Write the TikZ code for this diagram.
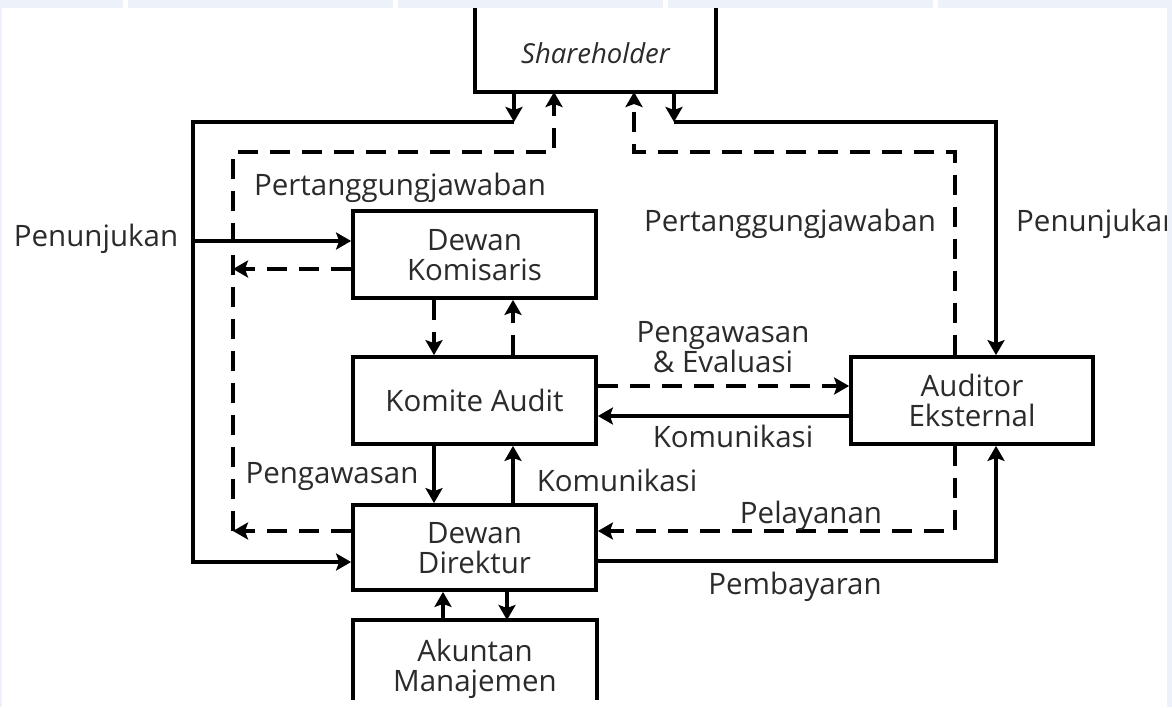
\documentclass[tikz,border=0pt]{standalone}
\usepackage{fontspec}
\setmainfont{Open Sans}
\usetikzlibrary{arrows.meta,calc}
\definecolor{txt}{HTML}{2B2B2B}
\definecolor{band}{HTML}{EDF1F9}
\begin{document}
\begin{tikzpicture}[x=1pt,y=-1pt,
  ln/.style={line width=3.5pt},
  arr/.style={ln,-{Stealth[length=15pt,width=17pt,inset=3pt]}},
  darr/.style={arr,dash pattern=on 20pt off 12pt},
  boxln/.style={line width=3.8pt},
  box/.style={draw,line width=3.8pt,minimum width=243pt,minimum height=87pt,inner sep=0pt,outer sep=1.9pt,
    align=center,font=\fontsize{29.5}{30}\selectfont,text=txt,text depth=0pt},
  lbl/.style={font=\fontsize{29.5}{30}\selectfont,text=txt,inner sep=0pt,align=center,text depth=0pt}]
\useasboundingbox (0,0) rectangle (1172,707);
\clip (0,0) rectangle (1172,707);
\fill[white] (0,0) rectangle (1172,707);

% boxes
\node[box] (dk) at (474.5,254.5) {Dewan\\Komisaris};
\node[box] (ka) at (474.5,400.5) {Komite Audit};
\node[box,minimum height=85pt] (dd) at (474.5,547.5) {Dewan\\Direktur};
\node[box,minimum width=242pt] (ae) at (972,400.5) {Auditor\\Eksternal};
\node[box,draw=none,outer sep=0pt,minimum width=241pt,minimum height=78pt,font=\fontsize{27.5}{28}\selectfont\itshape] (sh) at (595.5,53) {Shareholder};
\draw[boxln] ($(sh.north west)+(0,-40)$) -- (sh.south west) -- (sh.south east) -- ($(sh.north east)+(0,-40)$);
\node[box,draw=none,outer sep=0pt,minimum width=244pt,minimum height=90pt] (ak) at (475,665) {Akuntan\\Manajemen};
\draw[boxln] ($(ak.north west)+(0,80)$) -- (ak.north west) -- (ak.north east) -- ($(ak.north east)+(0,80)$);

% helper coordinates
\coordinate (jl) at (514,122);
\coordinate (jr) at (674,122);
\coordinate (L1) at (193,122);
\coordinate (L2) at (193,562);
\coordinate (L3) at (193,241);
\coordinate (R1) at (996,122);
\coordinate (xL) at (233,0);
\coordinate (xQ) at (554,0);
\coordinate (xP) at (634,0);
\coordinate (xR) at (955,0);
\coordinate (xS) at (996,0);
\coordinate (xA) at (434,0);
\coordinate (xB) at (513,0);
\coordinate (xC) at (443,0);
\coordinate (xD) at (507,0);
\coordinate (yT) at (0,152);
\coordinate (yK) at (0,269);
\coordinate (yD) at (0,531);
\coordinate (yP) at (0,561);
\coordinate (yE) at (0,386);
\coordinate (yC) at (0,416);

% solid connectors
\draw[arr] (sh.south -| jl) -- (jl);
\draw[arr] (jl) -- (L1) -- (L2) -- (dd.west |- L2);
\draw[arr] (L3) -- (dk.west |- L3);
\draw[arr] (sh.south -| jr) -- (jr);
\draw[arr] (jr) -- (R1) -- (ae.north -| R1);
\draw[arr] (ka.south -| xA) -- (dd.north -| xA);
\draw[arr] (dd.north -| xB) -- (ka.south -| xB);
\draw[arr] (ak.north -| xC) -- (dd.south -| xC);
\draw[arr] (dd.south -| xD) -- (ak.north -| xD);
\draw[arr] (ae.west |- yC) -- (ka.east |- yC);
\draw[arr] (dd.east |- yP) -- (xS |- yP) -- (ae.south -| xS);

% dashed connectors
\draw[darr] (dk.west |- yK) -- (xL |- yK);
\draw[darr] (dd.west |- yD) -- (xL |- yD);
\draw[darr] (xL |- yD) -- (xL |- yT) -- (xQ |- yT) -- (sh.south -| xQ);
\draw[darr] (ae.north -| xR) -- (xR |- yT) -- (xP |- yT) -- (sh.south -| xP);
\draw[darr] (dk.south -| xA) -- (ka.north -| xA);
\draw[darr] (ka.north -| xB) -- (dk.south -| xB);
\draw[darr] (ka.east |- yE) -- (ae.west |- yE);
\draw[darr] (ae.south -| xR) -- (xR |- yD) -- (dd.east |- yD);

% labels
\node[lbl] (t1) at (400,184) {Pertanggungjawaban};
\node[lbl] (t2) at (790,220) {Pertanggungjawaban};
\node[lbl] (t3) at (96,235) {Penunjukan};
\node[lbl,anchor=west] (t4) at (1016,220) {Penunjukan};
\node[lbl] (t5) at (723,347) {Pengawasan\\\& Evaluasi};
\node[lbl] (t6) at (733,436) {Komunikasi};
\node[lbl] (t7) at (617,480) {Komunikasi};
\node[lbl] (t8) at (332,473) {Pengawasan};
\node[lbl] (t9) at (811,512) {Pelayanan};
\node[lbl] (t10) at (795,583) {Pembayaran};

% top band
\fill[band] (0,0) rectangle (123,8);
\fill[band] (128,0) rectangle (393,8);
\fill[band] (398,0) rectangle (663,8);
\fill[band] (668,0) rectangle (933,8);
\fill[band] (938,0) rectangle (1172,8);
\fill[band] (0,0) rectangle (2,707);
\fill[band] (1167,0) rectangle (1172,707);
\end{tikzpicture}
\end{document}
